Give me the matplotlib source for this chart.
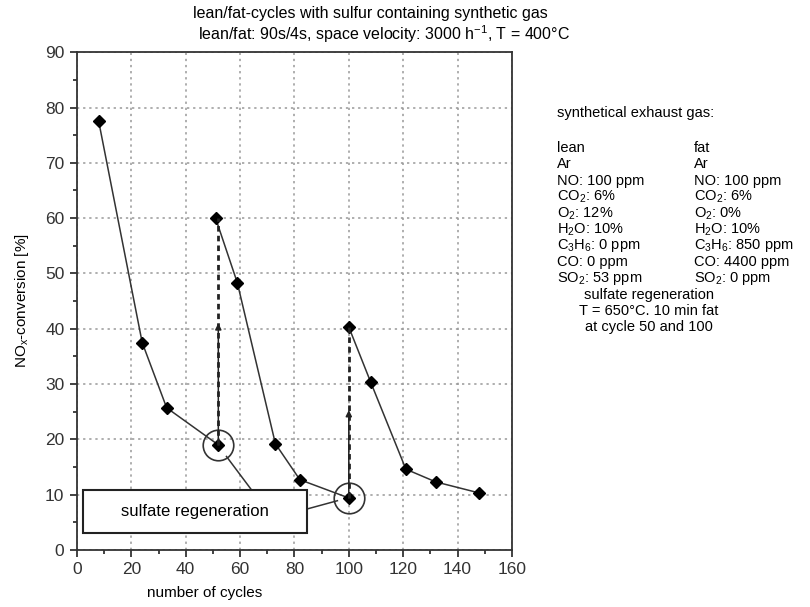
import matplotlib.pyplot as plt
from matplotlib.patches import Rectangle

plt.rcParams['font.family'] = ['Liberation Sans', 'DejaVu Sans']
plt.rcParams['mathtext.fontset'] = 'custom'
plt.rcParams['mathtext.rm'] = 'Liberation Sans'
plt.rcParams['mathtext.it'] = 'Liberation Sans:italic'
plt.rcParams['mathtext.default'] = 'rm'

# NOx conversion before first regeneration
cyc_a = [8, 24, 33, 52]
nox_a = [77.5, 37.5, 25.7, 19.0]
# after regeneration at cycle ~50
cyc_b = [51, 59, 73, 82, 100]
nox_b = [60.0, 48.3, 19.2, 12.7, 9.4]
# after regeneration at cycle 100
cyc_c = [100, 108, 121, 132, 148]
nox_c = [40.3, 30.4, 14.6, 12.3, 10.3]

# regeneration jumps: (cycle, before, after, arrow tip)
regen = [(52, 19.0, 60.0, 41.0), (100, 9.4, 40.3, 25.3)]

lean_col = ["lean", "Ar", "NO: 100 ppm", r"CO$_2$: 6%", r"O$_2$: 12%", r"H$_2$O: 10%",
            r"C$_3$H$_6$: 0 ppm", "CO: 0 ppm", r"SO$_2$: 53 ppm"]
fat_col = ["fat", "Ar", "NO: 100 ppm", r"CO$_2$: 6%", r"O$_2$: 0%", r"H$_2$O: 10%",
           r"C$_3$H$_6$: 850 ppm", "CO: 4400 ppm", r"SO$_2$: 0 ppm"]
regen_note = ["sulfate regeneration", "T = 650°C. 10 min fat", "at cycle 50 and 100"]

fig = plt.figure(figsize=(8.1, 6.07), dpi=100)
ax = fig.add_axes([0.095, 0.094, 0.537, 0.82])

ax.set_xlim(0, 160)
ax.set_ylim(0, 90)
ax.set_xticks(range(0, 161, 20))
ax.set_xticks(range(0, 161, 10), minor=True)
ax.set_yticks(range(0, 91, 10))
ax.set_yticks(range(0, 91, 5), minor=True)
ax.tick_params(which='major', length=5, width=1.2, labelsize=12.5, colors='#222222',
               labelcolor='#333333', pad=4)
ax.tick_params(which='minor', length=3, width=1.2, colors='#222222')
for s in ax.spines.values():
    s.set_linewidth(1.3)
    s.set_color('#333333')
ax.grid(True, which='major', linestyle=(0, (1.5, 2.5)), color='#999999', linewidth=1.1)

line_kw = dict(color='#333333', lw=1.1, marker='D', ms=6, mfc='black', mec='black')
ax.plot(cyc_a, nox_a, **line_kw)
ax.plot(cyc_b, nox_b, **line_kw)
ax.plot(cyc_c, nox_c, **line_kw)

for x, lo, hi, tip in regen:
    ax.plot([x, x], [lo, hi], color='#222222', lw=2, linestyle=(0, (2, 1.5)))
    ax.annotate('', xy=(x, tip), xytext=(x, lo),
                arrowprops=dict(arrowstyle='-|>', color='#222222', lw=1.1,
                                mutation_scale=9, shrinkA=0, shrinkB=0))
    ax.plot([x], [lo], marker='o', ms=22, mfc='none', mec='#333333', mew=1.2)

# sulfate regeneration label box
ax.add_patch(Rectangle((2.2, 3.1), 82.4, 7.7, fill=True, fc='white', ec='#222222', lw=1.5, zorder=5))
ax.text(43.4, 6.9, "sulfate regeneration", ha='center', va='center', fontsize=12, zorder=6)
ax.plot([64.3, 55.0], [10.8, 16.9], color='#333333', lw=1.1)
ax.plot([84.6, 95.8], [7.4, 8.9], color='#333333', lw=1.1)

ax.set_xlabel("number of cycles", fontsize=11)
ax.xaxis.set_label_coords(0.294, -0.072)
ax.set_ylabel(r"NO$_x$-conversion [%]", fontsize=11, labelpad=10)

fig.text(0.457, 0.977, "lean/fat-cycles with sulfur containing synthetic gas",
         ha='center', va='center', fontsize=11.5)
fig.text(0.474, 0.943, r"lean/fat: 90s/4s, space velocity: 3000 h$^{-1}$, T = 400°C",
         ha='center', va='center', fontsize=11.5)

fig.text(0.688, 0.814, "synthetical exhaust gas:", ha='left', va='center', fontsize=10.5)
y0 = 0.756
dy = 16.3 / 607
for i, (l, f) in enumerate(zip(lean_col, fat_col)):
    fig.text(0.688, y0 - i * dy, l, ha='left', va='center', fontsize=10.5)
    fig.text(0.857, y0 - i * dy, f, ha='left', va='center', fontsize=10.5)
for j, t in enumerate(regen_note):
    fig.text(0.801, y0 - (len(lean_col) + j) * dy, t, ha='center', va='center', fontsize=10.5)

fig.savefig("out.png", dpi=100)
